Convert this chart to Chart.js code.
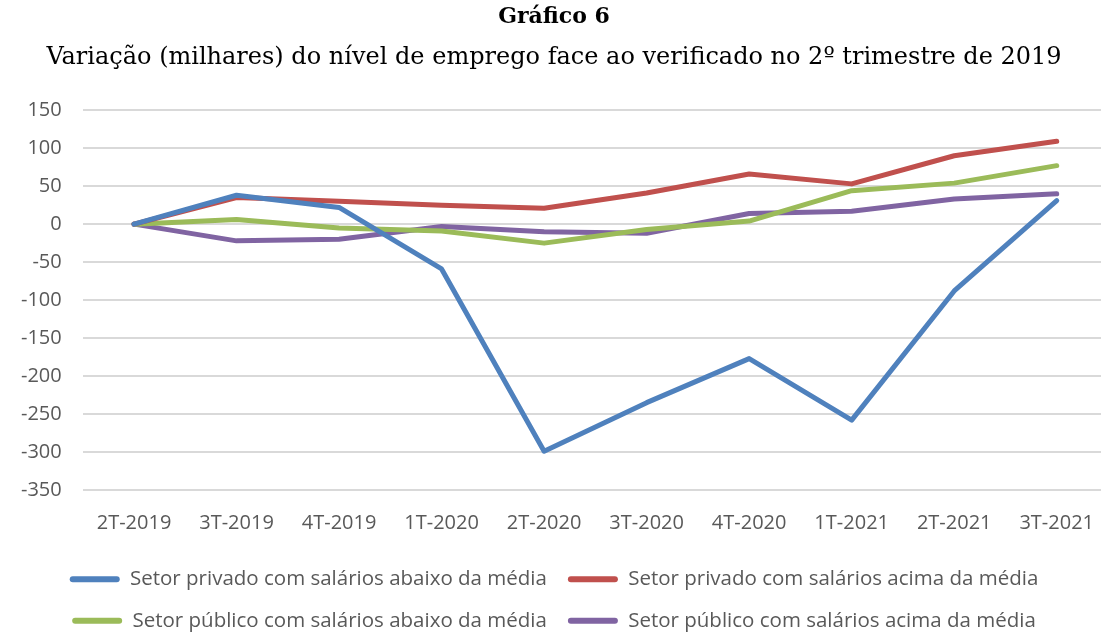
<!DOCTYPE html>
<html>
<head>
<meta charset="utf-8">
<script src="https://cdn.jsdelivr.net/npm/chart.js@4.4.1/dist/chart.umd.min.js"></script>
<style>
  html, body { margin: 0; padding: 0; background: #fff; overflow: hidden; }
  #wrap { width: 1118px; height: 632px; position: relative; }
</style>
</head>
<body>
<div id="wrap"><canvas id="chart"></canvas></div>
<script>
  // Trimestres
  const labels = ['2T-2019', '3T-2019', '4T-2019', '1T-2020', '2T-2020', '3T-2020', '4T-2020', '1T-2021', '2T-2021', '3T-2021'];

  // Variação (milhares) face ao 2T-2019
  const privadoAbaixo = [0, 38, 22, -59, -299, -235, -177, -258, -88, 31];
  const privadoAcima  = [0, 35, 30, 25, 21, 41, 66, 53, 90, 109];
  const publicoAbaixo = [0, 6, -5, -9, -25, -7, 4, 44, 54, 77];
  const publicoAcima  = [0, -22, -20, -3, -10, -12, 14, 17, 33, 40];

  const yTicks = [150, 100, 50, 0, -50, -100, -150, -200, -250, -300, -350];

  const sansFont = "'Open Sans', 'Noto Sans', sans-serif";
  const tickFont = { family: sansFont, size: 20 };

  const mk = (label, data, color) => ({
    label, data,
    borderColor: color, backgroundColor: color,
    borderWidth: 5, pointRadius: 0, tension: 0,
    borderCapStyle: 'round', borderJoinStyle: 'round'
  });

  new Chart(document.getElementById('chart'), {
    type: 'line',
    data: {
      labels,
      datasets: [
        mk('Setor privado com salários abaixo da média', privadoAbaixo, '#4f81bd'),
        mk('Setor privado com salários acima da média', privadoAcima, '#c0504d'),
        mk('Setor público com salários abaixo da média', publicoAbaixo, '#9bbb59'),
        mk('Setor público com salários acima da média', publicoAcima, '#8064a2')
      ]
    },
    options: {
      responsive: true,
      maintainAspectRatio: false,
      animation: false,
      layout: { padding: { left: 0, right: 10, top: 0, bottom: -9 } },
      scales: {
        x: {
          offset: true,
          grid: { display: false },
          border: { display: false },
          ticks: { color: '#595959', font: tickFont, padding: 13, maxRotation: 0 }
        },
        y: {
          min: -350, max: 150,
          afterBuildTicks: (ax) => { ax.ticks = yTicks.map(v => ({ value: v })); },
          grid: { color: '#d9d9d9', lineWidth: 2, drawTicks: false },
          border: { display: false },
          ticks: { color: '#595959', font: tickFont, padding: 21 }
        }
      },
      plugins: {
        title: {
          display: true,
          text: 'Gráfico 6',
          color: '#000',
          font: { family: "'DejaVu Serif', serif", size: 22, weight: 'bold' },
          padding: { top: 4, bottom: 13 }
        },
        subtitle: {
          display: true,
          text: 'Variação (milhares) do nível de emprego face ao verificado no 2º trimestre de 2019',
          color: '#000',
          font: { family: "'DejaVu Serif', serif", size: 24 },
          padding: { bottom: 38 }
        },
        legend: {
          position: 'bottom',
          labels: {
            color: '#595959',
            font: { family: sansFont, size: 20.5 },
            boxWidth: 50, boxHeight: 6, padding: 21,
            useBorderRadius: true, borderRadius: 3,
            generateLabels: (chart) => Chart.defaults.plugins.legend.labels.generateLabels(chart)
              .map(l => Object.assign(l, { lineWidth: 0 }))
          }
        },
        tooltip: { enabled: false }
      }
    }
  });
</script>
</body>
</html>
